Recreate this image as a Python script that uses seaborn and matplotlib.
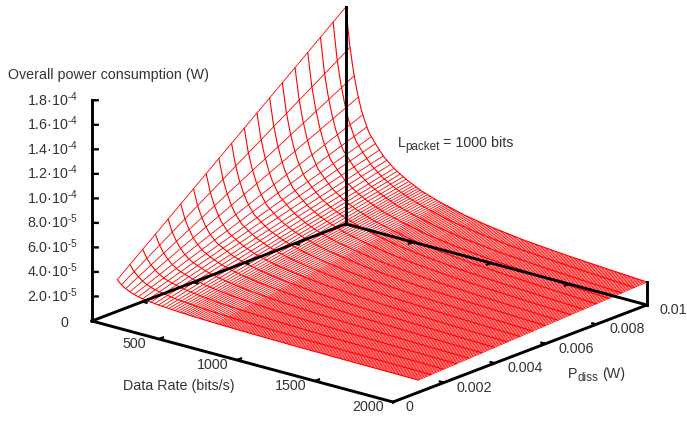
import numpy as np
import matplotlib
matplotlib.use("Agg")
import matplotlib.pyplot as plt
import matplotlib.transforms as mtransforms
from mpl_toolkits.mplot3d import proj3d
import seaborn as sns

# ---- data (z values in units of 1e-6 W) ----
x_min = 70
x_max = 2000
y_edges = [0.001, 0.01]
x_head = [70,97,124,151,178,205,232,259,285,310,334,357,379,400,420,439,457,474,490,505,520,535,550,565,580,595,610,625,640,655,670,685,700]
z_high_head = [177,145,122.8,106.3,92.7,83.8,76.6,72,67.6,63.8,61.1,58.4,55.9,54.3,52.7,51.2,49.9,48.5,47.3,46.3,45.6,44.9,44.2,43.5,42.7,42,41.3,40.6,39.9,39.2,38.7,38.2,37.8]
z_low_head = [25.8,22.6,20.38,18.73,17.37,16.48,15.76,15.3,14.86,14.48,14.21,13.94,13.69,13.53,13.37,13.22,13.09,12.95,12.83,12.73,12.66,12.59,12.52,12.45,12.37,12.3,12.23,12.16,12.09,12.02,11.97,11.92,11.88]
z_high_tail = [37.4,37.0,36.7,36.3,36.0,35.6,35.2,34.9,34.5,34.2,33.8,33.4,33.1,32.7,32.4,32.0,31.6,31.4,31.2,31.0,30.8,30.6,30.4,30.1,29.9,29.7,29.5,29.3,29.1,28.9,28.7,28.5,28.2,28.0,27.8,27.6,27.4,27.2,27.0,26.8,26.6,26.3,26.1,25.9,25.8,25.7,25.5,25.4,25.3,25.1,25.0,24.9,24.8,24.6,24.5,24.4,24.2,24.1,24.0,23.9,23.7,23.6,23.5,23.3,23.2,23.1,23.0,22.8,22.7,22.6,22.5,22.4,22.3,22.3,22.2,22.1,22.0,21.9,21.8,21.7,21.6,21.5,21.4,21.3,21.3,21.2,21.1,21.0,20.9,20.8,20.7,20.6,20.5,20.4,20.3,20.3,20.2,20.1,20.0,19.9,19.8,19.7,19.6,19.5,19.4,19.3,19.3,19.2,19.1,19.0,18.9,18.8,18.7]
z_low_tail = [11.84,11.8,11.77,11.73,11.7,11.66,11.62,11.59,11.55,11.52,11.48,11.44,11.41,11.37,11.34,11.3,11.26,11.24,11.22,11.2,11.18,11.16,11.14,11.11,11.09,11.07,11.05,11.03,11.01,10.99,10.97,10.95,10.92,10.9,10.88,10.86,10.84,10.82,10.8,10.78,10.76,10.73,10.71,10.69,10.68,10.67,10.65,10.64,10.63,10.61,10.6,10.59,10.58,10.56,10.55,10.54,10.52,10.51,10.5,10.49,10.47,10.46,10.45,10.43,10.42,10.41,10.4,10.38,10.37,10.36,10.35,10.34,10.33,10.33,10.32,10.31,10.3,10.29,10.28,10.27,10.26,10.25,10.24,10.23,10.23,10.22,10.21,10.2,10.19,10.18,10.17,10.16,10.15,10.14,10.13,10.13,10.12,10.11,10.1,10.09,10.08,10.07,10.06,10.05,10.04,10.03,10.03,10.02,10.01,10.0,9.99,9.98,9.97]

curve_x = [70,94.4,118.9,143.3,167.7,192.2,216.6,265.4,314.3,387.6,460.9,558.6,680.8,827.3,998.3,1218,1487,1731,2000]
curve_y = [0.001,0.0015,0.002,0.0025,0.003,0.0035,0.004,0.0045,0.005,0.0055,0.006,0.0065,0.007,0.0075,0.008,0.0085,0.009,0.0095,0.01]
curve_z = [
 [25.8,22.8,20.7,19.1,17.8,16.9,16.1,15.2,14.4,13.6,13.03,12.43,11.92,11.43,11.04,10.68,10.39,10.18,9.97],
 [34.2,29.7,26.55,24.15,22.2,20.85,19.65,18.3,17.1,15.9,15.05,14.15,13.38,12.65,12.06,11.52,11.09,10.77,10.46],
 [42.6,36.6,32.4,29.2,26.6,24.8,23.2,21.4,19.8,18.2,17.06,15.86,14.84,13.86,13.08,12.36,11.78,11.36,10.94],
 [51.0,43.5,38.25,34.25,31.0,28.75,26.75,24.5,22.5,20.5,19.08,17.58,16.3,15.08,14.1,13.2,12.48,11.95,11.43],
 [59.4,50.4,44.1,39.3,35.4,32.7,30.3,27.6,25.2,22.8,21.09,19.29,17.76,16.29,15.12,14.04,13.17,12.54,11.91],
 [67.8,57.3,49.95,44.35,39.8,36.65,33.85,30.7,27.9,25.1,23.1,21.0,19.22,17.5,16.14,14.88,13.87,13.13,12.4],
 [76.2,64.2,55.8,49.4,44.2,40.6,37.4,33.8,30.6,27.4,25.12,22.72,20.68,18.72,17.16,15.72,14.56,13.72,12.88],
 [84.6,71.1,61.65,54.45,48.6,44.55,40.95,36.9,33.3,29.7,27.13,24.43,22.14,19.93,18.18,16.56,15.26,14.31,13.37],
 [93.0,78.0,67.5,59.5,53.0,48.5,44.5,40.0,36.0,32.0,29.15,26.15,23.6,21.15,19.2,17.4,15.95,14.9,13.85],
 [101.4,84.9,73.35,64.55,57.4,52.45,48.05,43.1,38.7,34.3,31.17,27.87,25.06,22.37,20.22,18.24,16.65,15.49,14.34],
 [109.8,91.8,79.2,69.6,61.8,56.4,51.6,46.2,41.4,36.6,33.18,29.58,26.52,23.58,21.24,19.08,17.34,16.08,14.82],
 [118.2,98.7,85.05,74.65,66.2,60.35,55.15,49.3,44.1,38.9,35.2,31.3,27.98,24.8,22.26,19.92,18.04,16.67,15.31],
 [126.6,105.6,90.9,79.7,70.6,64.3,58.7,52.4,46.8,41.2,37.21,33.01,29.44,26.01,23.28,20.76,18.73,17.26,15.79],
 [135.0,112.5,96.75,84.75,75.0,68.25,62.25,55.5,49.5,43.5,39.23,34.73,30.9,27.23,24.3,21.6,19.43,17.85,16.28],
 [143.4,119.4,102.6,89.8,79.4,72.2,65.8,58.6,52.2,45.8,41.24,36.44,32.36,28.44,25.32,22.44,20.12,18.44,16.76],
 [151.8,126.3,108.45,94.85,83.8,76.15,69.35,61.7,54.9,48.1,43.26,38.16,33.82,29.66,26.34,23.28,20.82,19.03,17.25],
 [160.2,133.2,114.3,99.9,88.2,80.1,72.9,64.8,57.6,50.4,45.27,39.87,35.28,30.87,27.36,24.12,21.51,19.62,17.73],
 [168.6,140.1,120.15,104.95,92.6,84.05,76.45,67.9,60.3,52.7,47.29,41.59,36.74,32.09,28.38,24.96,22.21,20.21,18.22],
 [177,147,126,110,97,88,80,71,63,55,49.3,43.3,38.2,33.3,29.4,25.8,22.9,20.8,18.7],
]

x_ticks = [500, 1000, 1500, 2000]
x_tick_labels = ["500", "1000", "1500", "2000"]
y_ticks = [0, 0.002, 0.004, 0.006, 0.008, 0.01]
y_tick_labels = ["0", "0.002", "0.004", "0.006", "0.008", "0.01"]
z_ticks = [0, 20, 40, 60, 80, 100, 120, 140, 160, 180]
z_tick_labels = ["0", r"2.0·10$^{\text{-5}}$", r"4.0·10$^{\text{-5}}$", r"6.0·10$^{\text{-5}}$",
                 r"8.0·10$^{\text{-5}}$", r"1.0·10$^{\text{-4}}$", r"1.2·10$^{\text{-4}}$",
                 r"1.4·10$^{\text{-4}}$", r"1.6·10$^{\text{-4}}$", r"1.8·10$^{\text{-4}}$"]

# ---- style ----
sns.set_theme(style="white")
plt.rcParams["font.family"] = ["Liberation Sans", "DejaVu Sans"]
plt.rcParams["mathtext.fontset"] = "custom"
plt.rcParams["mathtext.rm"] = "Liberation Sans"
plt.rcParams["mathtext.it"] = "Liberation Sans"
plt.rcParams["mathtext.bf"] = "Liberation Sans"
plt.rcParams["mathtext.default"] = "regular"
W, H = 687, 421
FS = 10.3
RED = "#ff0000"
TXT = "#333333"

fig = plt.figure(figsize=(W / 100, H / 100), dpi=100, facecolor="white")
ax = fig.add_axes([0, (1 - W / H) / 2, 1, W / H], projection="3d", proj_type="ortho")
ax.computed_zorder = False
ax.set_axis_off()
ax.patch.set_alpha(0)
ax.view_init(elev=18.7, azim=-50)
ax.set_xlim(x_min, x_max, view_margin=0)
ax.set_ylim(0, 0.01, view_margin=0)
ax.set_zlim(0, 180, view_margin=0)
aspect = (393, 395, 233)

# ---- surface mesh ----
x_tail = np.linspace(x_head[-1], x_max, len(z_high_tail) + 1)[1:]
x_lines = list(x_head) + list(x_tail)
z_at_y_high = z_high_head + z_high_tail
z_at_y_low = z_low_head + z_low_tail
for xv, lo, hi in zip(x_lines, z_at_y_low, z_at_y_high):
    ax.plot([xv, xv], y_edges, [lo, hi], color=RED, lw=0.6, zorder=1)
for yv, row in zip(curve_y, curve_z):
    ax.plot(curve_x, np.full(len(curve_x), yv), row, color=RED, lw=0.8, zorder=1)

# ---- frame ----
k = dict(color="black", lw=2.1, zorder=3, solid_capstyle="projecting")
ax.plot([x_min, x_max], [0, 0], [0, 0], **k)
ax.plot([x_min, x_max], [0.01, 0.01], [0, 0], **k)
ax.plot([x_min, x_min], [0, 0.01], [0, 0], **k)
ax.plot([x_max, x_max], [0, 0.01], [0, 0], **k)
ax.plot([x_min, x_min], [0, 0], [0, z_ticks[-1]], **k)
ax.plot([x_min, x_min], [0.01, 0.01], [0, z_at_y_high[0]], **k)
ax.plot([x_max, x_max], [0.01, 0.01], [0, z_at_y_high[-1]], **k)

t = dict(color="black", lw=1.7, zorder=3, solid_capstyle="butt")
for xv in x_ticks[:-1]:
    ax.plot([xv, xv], [0, 0.0002], [0, 0], **t)
    ax.plot([xv, xv], [0.01, 0.0098], [0, 0], **t)
for yv in y_ticks[1:-1]:
    ax.plot([x_max, x_max - 32], [yv, yv], [0, 0], **t)
    ax.plot([x_min, x_min + 32], [yv, yv], [0, 0], **t)
for zv in z_ticks[1:]:
    ax.plot([x_min, x_min + 26], [0, 1.14e-4], [zv, zv], **t)

# ---- place the axes so the box lands where the reference has it ----
def px(xv, yv, zv):
    X, Y, _ = proj3d.proj_transform(xv, yv, zv, ax.get_proj())
    return ax.transData.transform((X, Y))

ax.set_box_aspect(aspect, zoom=1)
fig.canvas.draw()
wd = px(x_max, 0.01, 0)[0] - px(x_min, 0, 0)[0]
ax.set_box_aspect(aspect, zoom=555 / wd)
fig.canvas.draw()
F = px(x_max, 0, 0)
dx, dy = 393 - F[0], (H - 402) - F[1]
ax.set_position([dx / W, (1 - W / H) / 2 + dy / H, 1, W / H])
fig.canvas.draw()

# ---- text ----
I = mtransforms.IdentityTransform()
def label(xp, yp, s, ha="left", size=FS):
    fig.text(xp, H - yp, s, transform=I, ha=ha, va="baseline", fontsize=size, color=TXT)

for xv, s in zip(x_ticks, x_tick_labels):
    p = px(xv, 0, 0)
    fig.text(p[0] - 24.5, p[1] - 9, s, transform=I, ha="center", va="baseline", fontsize=FS, color=TXT)
for yv, s in zip(y_ticks, y_tick_labels):
    p = px(x_max, yv, 0)
    fig.text(p[0] + 13, p[1] - 9, s, transform=I, ha="left", va="baseline", fontsize=FS, color=TXT)
for zv, s in zip(z_ticks, z_tick_labels):
    p = px(x_min, 0, zv)
    right = 68 if s == "0" else 78
    fig.text(right, p[1] - 5.5, s, transform=I, ha="right", va="baseline", fontsize=FS, color=TXT)

label(8, 79, "Overall power consumption (W)")
label(123, 390, "Data Rate (bits/s)")
label(568, 378, "P")
label(577, 381, "diss", size=8.4)
label(602, 378, "(W)")
label(398, 147, "L")
label(405, 150, "packet", size=8.4)
label(443, 147, "= 1000 bits")

fig.savefig("out.png", dpi=100, facecolor="white")
